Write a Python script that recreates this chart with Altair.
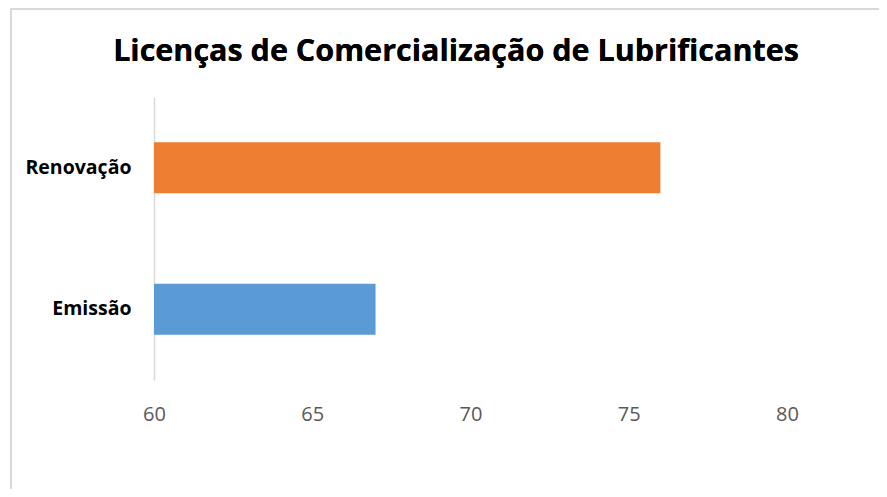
import altair as alt
import pandas as pd

categories = ["Renovação", "Emissão"]
values = [76, 67]
colors = ["#ED7D31", "#5B9BD5"]
x_ticks = [60, 65, 70, 75, 80]
title_text = "Licenças de Comercialização de Lubrificantes"

df = pd.DataFrame({"cat": categories, "val": values, "color": colors})

PL, PT = 146, 89
W, H = 633, 283
PR = 887 - 16 - PL - W
PB = 497 - 16 - PT - H

bars = alt.Chart(df).mark_bar(clip=False).encode(
    y=alt.Y("cat:N", sort=categories, title=None,
            scale=alt.Scale(paddingInner=0.64, paddingOuter=0.32),
            axis=alt.Axis(labelFont="Open Sans", labelFontWeight="bold", labelFontSize=19.5,
                          labelColor="#000000", labelPadding=23, ticks=False,
                          domainColor="#d9d9d9", domainWidth=1.5, grid=False)),
    x=alt.X("val:Q", title=None,
            scale=alt.Scale(domain=[60, 80], nice=False, zero=False),
            axis=alt.Axis(values=x_ticks, labelFont="Open Sans", labelFontSize=20,
                          labelColor="#595959", labelPadding=24, ticks=False,
                          labelFlush=False, domain=False, grid=False)),
    x2=alt.datum(60),
    color=alt.Color("color:N", scale=None),
)

title = alt.Chart(df).mark_text(
    text=title_text, font="Open Sans", fontWeight="bold", fontSize=30.5,
    color="#000000", align="center", baseline="middle"
).encode(x=alt.value(456 - 8 - PL), y=alt.value(52 - 8 - PT))

border = alt.Chart(df).mark_rect(fill=None, stroke="#d9d9d9", strokeWidth=2, clip=False).encode(
    x=alt.value(-143), x2=alt.value(900), y=alt.value(-88), y2=alt.value(600)
)

chart = alt.layer(border, bars, title).properties(
    width=W, height=H,
    autosize=alt.AutoSizeParams(type="none"),
    padding={"left": PL, "top": PT, "right": PR, "bottom": PB},
).configure_view(stroke=None)

chart.save("out.html", embed_options={"renderer": "svg", "actions": False})
